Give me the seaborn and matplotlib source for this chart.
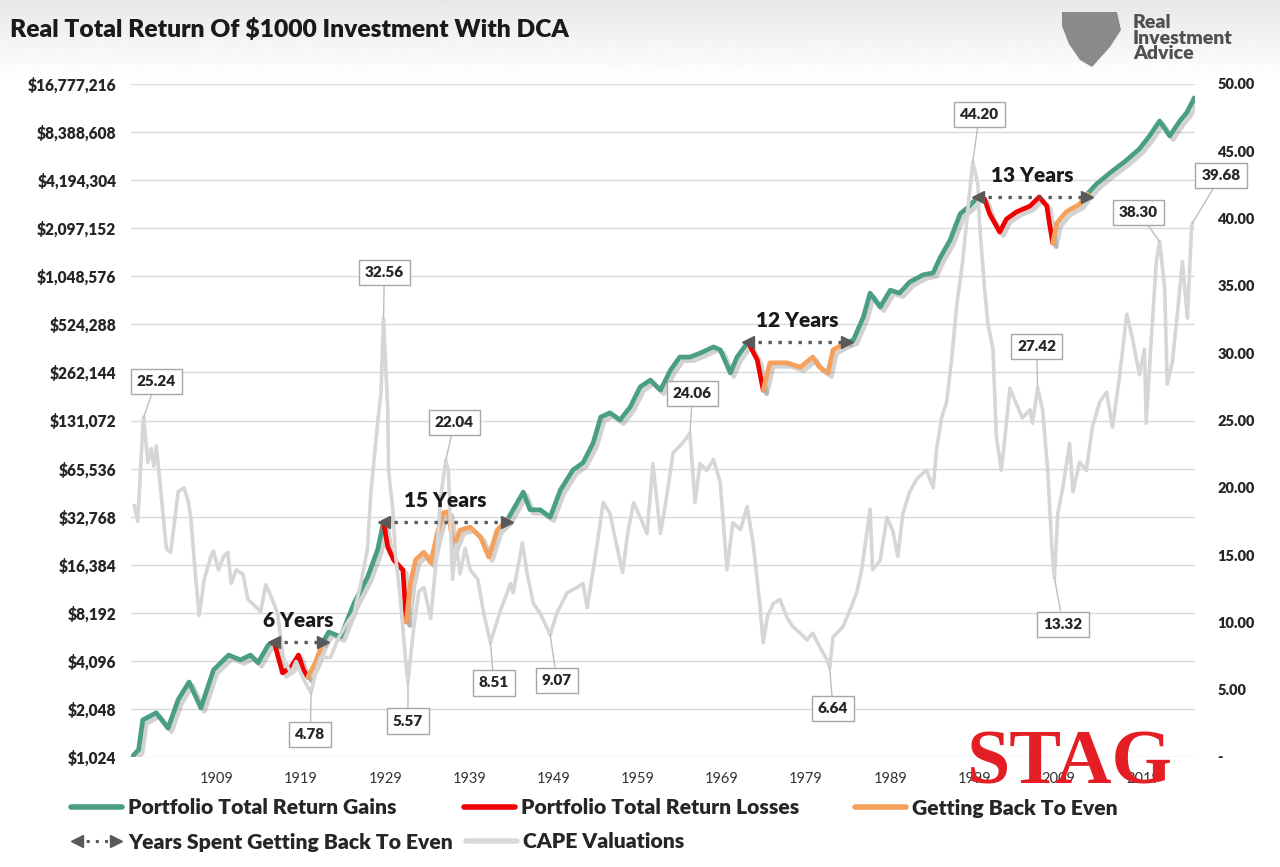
import numpy as np
import pandas as pd
import matplotlib
matplotlib.use("Agg")
import matplotlib.pyplot as plt
import matplotlib.patheffects as pe
from matplotlib.lines import Line2D
from matplotlib.patches import Polygon
from matplotlib.legend_handler import HandlerBase
from matplotlib.ticker import FixedLocator, FuncFormatter
import seaborn as sns

# portfolio value ($) - phase g = gains, l = losses, e = getting back to even
port_year = [1898.9, 1899.7, 1900.2, 1901.8, 1903.2, 1904.4, 1905.7, 1907.1, 1908.6, 1910.4, 1911.8, 1913.0, 1913.9, 1915.1, 1915.8,
             1916.8, 1917.8, 1918.7, 1919.3, 1919.8,
             1920.7, 1921.6,
             1922.3, 1923.7, 1925.3, 1926.9, 1928.1, 1928.8,
             1929.3, 1930.0, 1931.1, 1931.5,
             1932.0, 1932.6, 1933.6, 1934.4, 1935.2, 1935.9, 1936.5, 1937.1, 1937.9, 1939.1, 1940.3, 1941.3, 1942.3, 1943.5,
             1944.2, 1945.4, 1946.2, 1947.4, 1948.6, 1949.8, 1951.3, 1952.5, 1953.7, 1954.6, 1955.7, 1956.9, 1958.1, 1959.3,
             1960.5, 1961.7, 1962.9, 1964.0, 1965.2, 1966.4, 1968.0, 1968.8, 1970.0, 1970.8, 1972.1,
             1973.2, 1973.9,
             1974.7, 1976.7, 1978.3, 1979.8, 1980.6, 1981.6, 1982.2, 1983.9,
             1984.6, 1985.8, 1986.6, 1987.8, 1989.0, 1990.1, 1991.3, 1992.9, 1994.1, 1994.9, 1996.1, 1997.3, 1998.4, 1999.4,
             2000.2, 2000.8, 2002.0, 2002.8, 2004.0, 2005.6, 2006.7, 2007.6, 2007.9, 2008.3,
             2008.8, 2009.9, 2011.5, 2012.4,
             2013.5, 2015.1, 2017.1, 2018.6, 2019.8, 2021.0, 2022.2, 2023.4, 2024.2, 2024.9, 2025.1]
port_value = [1024, 1136, 1746, 1937, 1552, 2337, 3019, 2077, 3591, 4452, 4153, 4452, 3984, 5149, 5370,
              3444, 3744, 4452, 3591, 3236,
              3984, 5370,
              6208, 5793, 9410, 13681, 20316, 30360,
              21168, 17560, 15180, 7181,
              12591, 17560, 19612, 16844, 25887, 34636, 35120, 21168, 26984, 28131, 24494, 18301, 26984, 31211,
              36176, 46662, 36176, 36176, 32541, 47972, 64184, 71238, 94634, 137625, 146408, 131988, 159121, 212992,
              234619, 202899, 271319, 327156, 327156, 346030, 378536, 363069, 260309, 327156, 405799,
              313786, 202899,
              301203, 301203, 282853, 327156, 282853, 260309, 363069, 405799,
              417071, 581960, 822608, 672662, 857735, 822608, 964690, 1070596, 1101005, 1364197, 1763705, 2581594, 2885681, 3290432,
              3200254, 2581594, 1983906, 2392851, 2654994, 2885681, 3290432, 2885681, 2262827, 1691353,
              2262827, 2654994, 2965821, 3430899,
              3967812, 4655676, 5611979, 6580862, 7935624, 9839836, 7935624, 9839836, 11072962, 12985654, 13723762]
port_phase = (["g"] * 15 + ["l"] * 5 + ["e"] * 2 + ["g"] * 6 + ["l"] * 4 + ["e"] * 14 + ["g"] * 25
              + ["l"] * 2 + ["e"] * 8 + ["g"] * 14 + ["l"] * 10 + ["e"] * 4 + ["g"] * 11)

# CAPE (right axis)
cape_year = [1899.2, 1899.6, 1900.2, 1900.3, 1900.8, 1901.2, 1901.5, 1901.8, 1902.1, 1902.6, 1903.0, 1903.5, 1904.1, 1904.4,
             1905.1, 1905.6, 1905.9, 1906.5, 1906.9, 1907.5, 1908.3, 1908.6, 1909.2, 1909.8, 1910.3, 1910.7, 1911.3, 1912.1,
             1912.7, 1913.4, 1914.2, 1914.8, 1915.4, 1916.2, 1916.9, 1917.8, 1918.4, 1919.2, 1919.8, 1920.2, 1920.7, 1921.3,
             1922.5, 1923.4, 1924.5, 1925.3, 1926.1, 1926.9, 1927.3, 1928.1, 1928.5, 1928.8, 1929.3, 1929.4, 1929.9, 1930.2,
             1930.8, 1931.4, 1931.7, 1932.0, 1932.4, 1933.0, 1933.6, 1934.4, 1935.0, 1935.6, 1936.2, 1936.5, 1937.0, 1937.4,
             1937.9, 1938.5, 1939.1, 1940.0, 1940.7, 1941.5, 1942.7, 1943.9, 1944.2, 1945.3, 1945.9, 1946.6, 1947.4, 1948.6,
             1949.4, 1950.6, 1951.8, 1952.5, 1953.0, 1954.2, 1954.9, 1955.7, 1956.3, 1957.2, 1957.8, 1958.5, 1959.3, 1960.1,
             1960.8, 1961.7, 1962.5, 1963.2, 1964.3, 1965.2, 1965.8, 1966.4, 1967.2, 1968.0, 1968.8, 1969.6, 1970.3, 1971.2,
             1972.0, 1972.7, 1973.5, 1973.9, 1974.4, 1975.1, 1975.9, 1976.7, 1977.4, 1978.3, 1979.1, 1979.8, 1980.6, 1981.5,
             1981.8, 1982.2, 1983.4, 1984.2, 1985.0, 1985.6, 1986.6, 1986.9, 1987.8, 1988.6, 1989.3, 1989.9, 1990.5, 1991.3,
             1992.2, 1993.3, 1994.1, 1994.5, 1995.1, 1995.7, 1996.3, 1996.9, 1997.6, 1998.2, 1998.8, 1999.4, 1999.6, 2000.2,
             2000.6, 2001.2, 2001.6, 2002.2, 2002.8, 2003.2, 2004.0, 2004.7, 2005.6, 2005.9, 2006.5, 2007.1, 2007.7, 2008.2,
             2008.5, 2008.9, 2009.5, 2010.3, 2010.7, 2011.5, 2012.3, 2013.0, 2013.9, 2014.7, 2015.4, 2016.2, 2017.1, 2017.8,
             2018.6, 2019.2, 2019.4, 2020.0, 2020.6, 2021.0, 2021.6, 2021.9, 2022.5, 2023.1, 2023.7, 2024.3, 2024.8, 2024.9]
cape_value = [18.7, 17.5, 24.5, 25.24, 21.9, 22.9, 21.6, 23.1, 21.3, 18.1, 15.5, 15.2, 18.1, 19.7,
              20.0, 19.0, 17.8, 13.2, 10.5, 13.2, 14.9, 15.3, 13.9, 14.9, 15.2, 12.9, 13.9, 13.6,
              11.7, 11.3, 10.8, 12.8, 12.0, 10.7, 7.4, 6.2, 7.1, 5.9, 5.2, 4.78, 6.2, 7.4,
              7.4, 8.8, 10.0, 10.7, 12.9, 15.5, 19.7, 24.8, 27.1, 32.56, 25.8, 21.3, 18.4, 15.2,
              11.7, 7.4, 5.57, 7.4, 9.7, 12.3, 12.6, 10.3, 14.2, 19.4, 22.04, 21.3, 13.2, 15.8,
              13.6, 15.5, 13.9, 13.2, 10.7, 8.51, 10.9, 12.9, 12.2, 15.9, 13.5, 11.4, 10.7, 9.07,
              10.7, 12.2, 12.6, 12.9, 11.1, 15.9, 18.9, 18.1, 16.3, 13.7, 16.6, 18.9, 17.8, 16.6,
              21.8, 16.6, 19.6, 22.6, 23.3, 24.06, 18.9, 21.8, 21.3, 22.1, 20.4, 13.9, 17.4, 16.9,
              18.6, 15.9, 11.4, 8.5, 10.4, 11.4, 11.7, 10.4, 9.7, 9.2, 8.7, 9.2, 8.2, 7.2,
              6.64, 8.9, 9.7, 10.9, 12.2, 13.9, 18.4, 13.9, 14.6, 17.8, 16.8, 14.9, 18.1, 19.7,
              20.7, 21.3, 20.0, 22.9, 25.2, 26.4, 29.6, 33.6, 36.8, 40.6, 44.20, 42.6, 39.7, 34.8,
              32.2, 30.3, 23.8, 21.3, 24.8, 27.4, 26.2, 25.2, 25.8, 24.8, 27.42, 25.8, 21.3, 15.5,
              13.32, 18.1, 20.0, 23.3, 19.7, 21.9, 21.3, 24.5, 26.4, 27.1, 24.5, 28.1, 32.9, 31.0,
              28.4, 30.3, 24.8, 31.0, 36.8, 38.30, 34.8, 27.7, 29.3, 32.9, 36.8, 32.6, 39.4, 39.68]

# labelled CAPE highs / lows
call_year = [1900.3, 1920.2, 1928.8, 1931.7, 1936.2, 1941.5, 1948.6, 1965.2, 1981.8, 1998.8, 2006.5, 2008.5, 2021.0, 2024.9]
call_value = [25.24, 4.78, 32.56, 5.57, 22.04, 8.51, 9.07, 24.06, 6.64, 44.20, 27.42, 13.32, 38.30, 39.68]
call_box = [(1901.8, 27.9), (1920.1, 1.65), (1928.9, 36.0), (1931.7, 2.67), (1937.2, 24.85), (1941.9, 5.5),
            (1949.4, 5.7), (1965.5, 27.0), (1982.2, 3.6), (1999.6, 47.75), (2006.4, 30.5), (2009.5, 9.87),
            (2018.5, 40.45), (2028.3, 43.2)]

years_to_even = [6, 15, 12, 13]
xticks = list(range(1909, 2020, 10))

GREEN, RED, ORANGE, GREY, ARROW = "#4a9e86", "#f00000", "#f4a15d", "#d6d6d6", "#595959"
palette = {"g": GREEN, "l": RED, "e": ORANGE}

sns.set_style("white")
plt.rcParams["font.family"] = ["Lato", "DejaVu Sans"]

# split the portfolio into coloured runs, each run starts on the last point of the one before
rows = []
seg = 0
for i, (yr, val, ph) in enumerate(zip(port_year, port_value, port_phase)):
    if i > 0 and ph != port_phase[i - 1]:
        seg += 1
        rows.append((port_year[i - 1], port_value[i - 1], ph, seg))
    rows.append((yr, val, ph, seg))
df = pd.DataFrame(rows, columns=["year", "value", "phase", "seg"])

W, H = 1280, 867
fig = plt.figure(figsize=(12.8, 8.67), dpi=100)

# light grey band behind the header
top = fig.add_axes([0, 1 - 78 / H, 1, 78 / H], zorder=-5)
top.imshow(np.linspace(0.91, 1.0, 50).reshape(-1, 1), cmap="gray", vmin=0, vmax=1, aspect="auto", extent=(0, 1, 0, 1))
top.axis("off")

ax = fig.add_axes([131 / W, 1 - 757 / H, (1195 - 131) / W, (757 - 84) / H])
sns.lineplot(data=df, x="year", y="value", hue="phase", units="seg", estimator=None, palette=palette,
             lw=3.4, legend=False, sort=False, ax=ax)
for ln in ax.lines:
    ln.set_solid_capstyle("round")
    ln.set_solid_joinstyle("round")
    ln.set_path_effects([pe.SimpleLineShadow(offset=(2.5, -2.5), shadow_color="#7f7f7f", alpha=0.35), pe.Normal()])

ax.set_yscale("log", base=2)
ax.set_ylim(2 ** 10, 2 ** 24)
ax.set_xlim(1898.8, 2025.2)
ax.yaxis.set_major_locator(FixedLocator([2 ** k for k in range(10, 25)]))
ax.yaxis.set_minor_locator(FixedLocator([]))
ax.yaxis.set_major_formatter(FuncFormatter(lambda v, p: f"${v:,.0f}"))
ax.set_xticks(xticks)
ax.set_xticklabels([str(t) for t in xticks])
ax.grid(axis="y", color="#d9d9d9", lw=1)
ax.grid(axis="x", visible=False)
ax.set_xlabel("")
ax.set_ylabel("")
ax.tick_params(axis="y", length=0, pad=10.5, labelsize=11.2, labelcolor="#262626")
ax.tick_params(axis="x", length=0, pad=11, labelsize=10.5, labelcolor="#333333")
for t in ax.get_yticklabels():
    t.set_fontweight("heavy")
sns.despine(ax=ax, left=True, bottom=True)

ax2 = ax.twinx()
sns.lineplot(x=cape_year, y=cape_value, color=GREY, lw=2.6, ax=ax2)
ax2.set_ylim(0, 50)
ax2.set_xlim(1898.8, 2025.2)
ax2.yaxis.set_major_locator(FixedLocator(list(range(0, 51, 5))))
ax2.yaxis.set_major_formatter(FuncFormatter(lambda v, p: "-" if v == 0 else f"{v:.2f}"))
ax2.tick_params(axis="y", length=0, pad=16, labelsize=10.5, labelcolor="#262626")
for t in ax2.get_yticklabels():
    t.set_fontweight("heavy")
ax2.grid(False)
for s in ax2.spines.values():
    s.set_visible(False)

for yr, v, (bx, by) in zip(call_year, call_value, call_box):
    ax2.annotate(f"{v:.2f}", xy=(yr, v), xytext=(bx, by), ha="center", va="center",
                 fontsize=11, fontweight="heavy", color="#262626", annotation_clip=False,
                 bbox=dict(boxstyle="square,pad=0.4", fc="white", ec="#a6a6a6", lw=1),
                 arrowprops=dict(arrowstyle="-", color="#bdbdbd", lw=1, shrinkA=0, shrinkB=0))

# years spent getting back to even: peak before each loss run to the end of the recovery run
starts = [r for r in range(1, len(port_phase)) if port_phase[r] == "l" and port_phase[r - 1] == "g"]
for n, r in zip(years_to_even, starts):
    k = r
    while port_phase[k] != "g":
        k += 1
    x0, x1, yv = port_year[r - 1], port_year[k - 1], port_value[r - 1]
    ax2.plot([x0, x1], [yv, yv], transform=ax.transData, color=ARROW, lw=2.4, ls=(0, (1, 2)), zorder=5)
    ax2.plot([x0], [yv], transform=ax.transData, marker="<", ms=9, color=ARROW, lw=0, zorder=6)
    ax2.plot([x1], [yv], transform=ax.transData, marker=">", ms=9, color=ARROW, lw=0, zorder=6)
    ax2.annotate(f"{n} Years", xy=((x0 + x1) / 2, yv), xycoords=ax.transData, xytext=(0, 15.5),
                 textcoords="offset points", ha="center", va="center", fontsize=15,
                 fontweight="heavy", color="#1a1a1a", zorder=7)
ax2.set_ylim(0, 50)


class YearsArrow(HandlerBase):
    def create_artists(self, legend, orig_handle, xdescent, ydescent, width, height, fontsize, trans):
        y = height / 2 - ydescent
        a, b = -xdescent + 4, -xdescent + width - 4
        dots = Line2D([a, b], [y, y], color=ARROW, lw=2.2, ls=(0, (1, 2)), transform=trans)
        left = Line2D([a], [y], marker="<", ms=8, color=ARROW, lw=0, transform=trans)
        right = Line2D([b], [y], marker=">", ms=8, color=ARROW, lw=0, transform=trans)
        return [dots, left, right]


years_handle = Line2D([], [])
entries = [
    (Line2D([], [], color=GREEN, lw=4), "Portfolio Total Return Gains", 71, 808),
    (Line2D([], [], color=RED, lw=4), "Portfolio Total Return Losses", 464, 808),
    (Line2D([], [], color=ORANGE, lw=4), "Getting Back To Even", 855, 808),
    (years_handle, "Years Spent Getting Back To Even", 71, 842),
    (Line2D([], [], color="#d9d9d9", lw=4), "CAPE Valuations", 466, 842),
]
for h, lab, px, py in entries:
    fig.legend(handles=[h], labels=[lab], loc="center left", bbox_to_anchor=(px / W, 1 - py / H),
               frameon=False, borderpad=0, borderaxespad=0, handlelength=2.4, handletextpad=0.3,
               prop=dict(weight="heavy", size=15.2), labelcolor="#262626",
               handler_map={years_handle: YearsArrow()})

fig.text(10 / W, 1 - 30 / H, "Real Total Return Of $1000 Investment With DCA", ha="left", va="center",
         fontsize=17.7, fontweight="heavy", color="#1a1a1a")

# logo
shield = [(1062, 12), (1117, 12), (1121, 30), (1110, 47), (1092, 67), (1080, 60), (1069, 44), (1062, 26)]
fig.patches.append(Polygon([(x / W, 1 - y / H) for x, y in shield], closed=True, transform=fig.transFigure,
                           fc="#8a8a8a", ec="none", figure=fig))
fig.text(1133 / W, 1 - 38 / H, "Real\nInvestment\nAdvice", ha="left", va="center", fontsize=14,
         fontweight="heavy", color="#505050", linespacing=0.9)

fig.text(1070 / W, 1 - 765 / H, "STAG", ha="center", va="center", fontsize=56, fontweight="bold",
         color="#e41e25", family=["Liberation Serif", "DejaVu Serif"], zorder=10)

fig.savefig("out.png", dpi=100, facecolor="white")
